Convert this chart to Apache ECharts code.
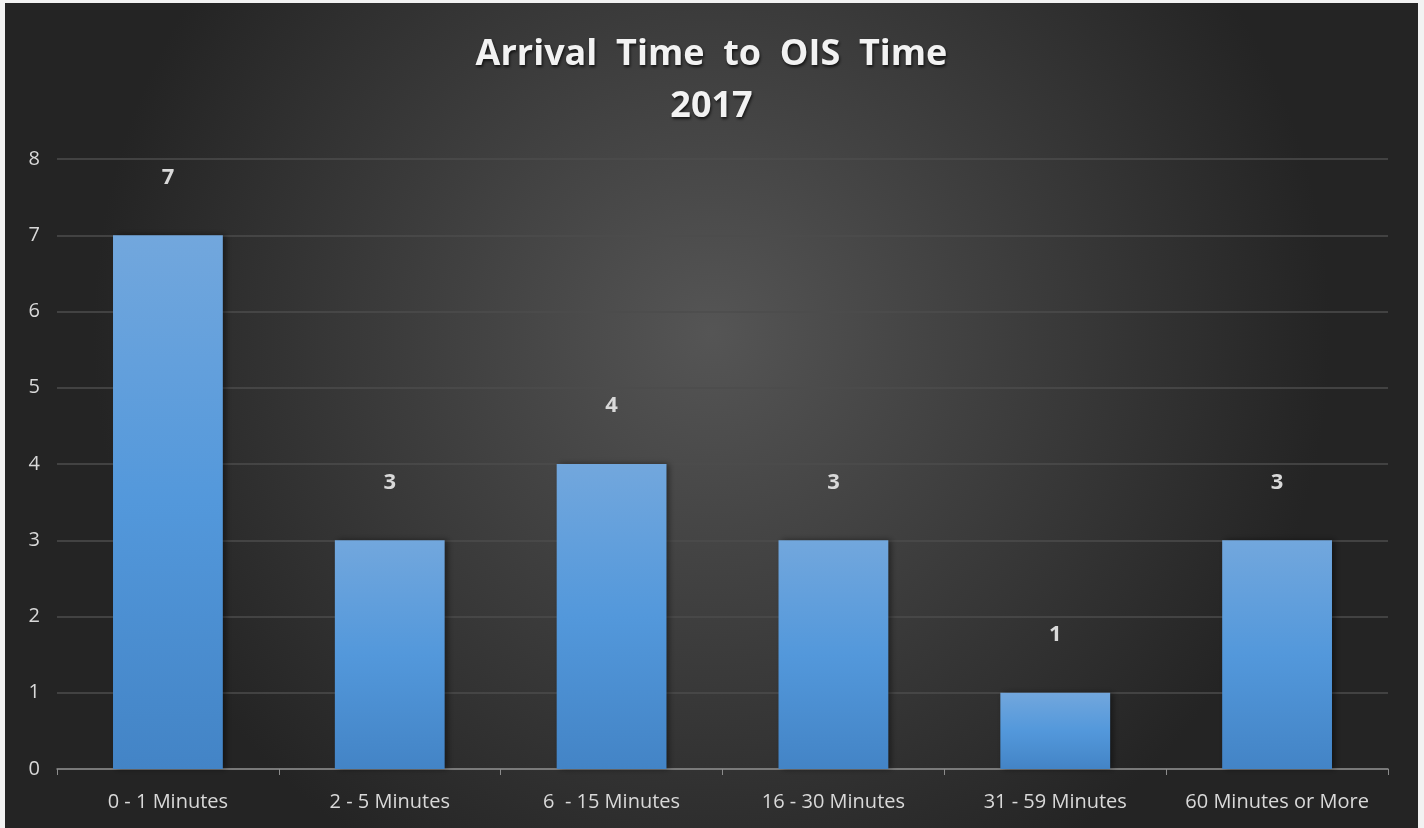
<!DOCTYPE html>
<html>
<head>
<meta charset="utf-8">
<script src="https://cdn.jsdelivr.net/npm/echarts@6/dist/echarts.min.js"></script>
<style>
html,body{margin:0;padding:0;background:#f2f2f2;width:1424px;height:828px;overflow:hidden;}
#chart{position:absolute;left:5px;top:3px;width:1413px;height:825px;}
</style>
</head>
<body>
<div id="chart"></div>
<script>
const titleLines = ['Arrival  Time  to  OIS  Time', '2017'];
const categories = ['0 - 1 Minutes', '2 - 5 Minutes', '6  - 15 Minutes', '16 - 30 Minutes', '31 - 59 Minutes', '60 Minutes or More'];
const counts = [7, 3, 4, 3, 1, 3];
const yTicks = { min: 0, max: 8, interval: 1 };

const chart = echarts.init(document.getElementById('chart'));
const fontFam = '"Open Sans", "Liberation Sans", sans-serif';
chart.setOption({
  backgroundColor: {
    type: 'radial', x: 0.5, y: 0.4, r: 0.75,
    colorStops: [
      { offset: 0, color: '#555555' },
      { offset: 1, color: '#242424' }
    ]
  },
  title: {
    text: titleLines.join('\n'),
    left: 'center',
    top: 21,
    textStyle: {
      color: '#f2f2f2',
      fontFamily: fontFam,
      fontWeight: 'bold',
      fontSize: 36,
      lineHeight: 52,
      textShadowColor: 'rgba(0,0,0,0.7)',
      textShadowBlur: 3,
      textShadowOffsetX: 1,
      textShadowOffsetY: 2
    }
  },
  grid: { left: 52, right: 30, top: 156, bottom: 59 },
  xAxis: {
    type: 'category',
    data: categories,
    axisLine: { lineStyle: { color: '#8c8c8c', width: 1.5 } },
    axisTick: { show: true, length: 6, lineStyle: { color: '#8c8c8c' } },
    axisLabel: { interval: 0, color: '#d9d9d9', fontSize: 20, fontFamily: fontFam, margin: 23 }
  },
  yAxis: {
    type: 'value',
    min: yTicks.min, max: yTicks.max, interval: yTicks.interval,
    axisLine: { show: false },
    axisTick: { show: false },
    axisLabel: { color: '#d9d9d9', fontSize: 20, fontFamily: fontFam, margin: 17 },
    splitLine: { lineStyle: { color: '#4d4d4d', width: 1.5 } }
  },
  series: [{
    type: 'bar',
    data: counts,
    barWidth: '49.5%',
    itemStyle: {
      color: {
        type: 'linear', x: 0, y: 0, x2: 0, y2: 1,
        colorStops: [
          { offset: 0, color: '#72a7dd' },
          { offset: 0.5, color: '#5398db' },
          { offset: 1, color: '#4384c6' }
        ]
      },
      shadowColor: 'rgba(0,0,0,0.45)',
      shadowBlur: 6,
      shadowOffsetX: 3,
      shadowOffsetY: 0
    },
    label: {
      show: true,
      position: 'top',
      distance: 47,
      color: '#d9d9d9',
      fontSize: 22,
      fontWeight: 'bold',
      fontFamily: fontFam
    }
  }]
});
</script>
</body>
</html>
